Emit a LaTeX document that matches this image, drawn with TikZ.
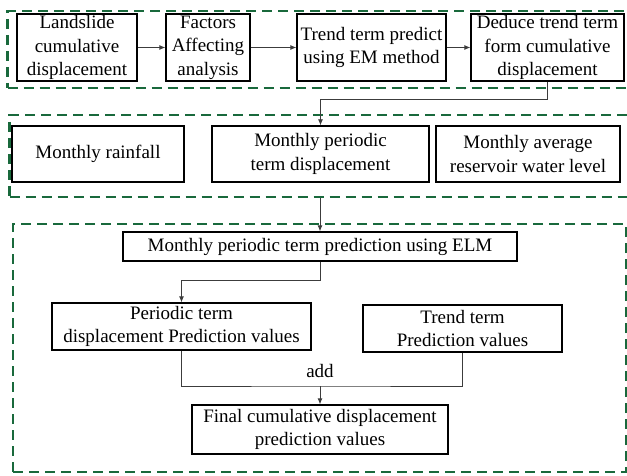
\documentclass[tikz,border=0pt]{standalone}
\usepackage{fontspec}
\setmainfont{Liberation Serif}
\usepackage{tikz}
\usetikzlibrary{arrows.meta}
\definecolor{grpgreen}{RGB}{25,105,60}
\definecolor{lngray}{RGB}{60,60,60}
\tikzset{
  blk/.style={draw=black, line width=1.3pt, align=center, inner sep=0pt, font=\fontsize{19}{23.5}\selectfont},
  grp/.style={draw=grpgreen, line width=2.2pt, dash pattern=on 10pt off 6pt, inner sep=0pt},
  ln/.style={draw=lngray, line width=0.8pt},
  arr/.style={ln, -{Latex[length=6pt,width=5pt]}}
}

\begin{document}
\begin{tikzpicture}[x=1pt,y=-1pt]
\useasboundingbox (0,0) rectangle (627,476);
\node[grp, minimum width=621.5pt, minimum height=77pt] (G1) at (318.25,49.5) {};
\node[grp, minimum width=619.5pt, minimum height=82pt] (G2) at (319.25,156) {};
\node[grp, minimum width=613pt, minimum height=248pt] (G3) at (319.5,348) {};
\node[blk, minimum width=120pt, minimum height=67pt] (N0) at (77,47.5) {Landslide\\cumulative\\displacement};
\node[blk, minimum width=84pt, minimum height=67pt] (N1) at (208,47.5) {Factors\\Affecting\\analysis};
\node[blk, minimum width=149pt, minimum height=67pt] (N2) at (371.5,47.5) {Trend term predict\\using EM method};
\node[blk, minimum width=153pt, minimum height=67pt] (N3) at (547.5,47.5) {Deduce trend term\\form cumulative\\displacement};
\node[blk, minimum width=172pt, minimum height=56pt] (N4) at (98,154) {Monthly rainfall};
\node[blk, minimum width=217pt, minimum height=56pt] (N5) at (320.5,154) {Monthly periodic\\term displacement};
\node[blk, minimum width=184pt, minimum height=56pt] (N6) at (528,154) {Monthly average\\reservoir water level};
\node[blk, minimum width=394pt, minimum height=29pt] (N7) at (320,246.5) {Monthly periodic term prediction using ELM};
\node[blk, minimum width=259pt, minimum height=47pt] (N8) at (181.5,326.5) {Periodic term\\displacement Prediction values};
\node[blk, minimum width=199pt, minimum height=47pt] (N9) at (462.5,328.5) {Trend term\\Prediction values};
\node[blk, minimum width=256pt, minimum height=49pt] (N10) at (320,429.5) {Final cumulative displacement\\prediction values};
\node[font=\fontsize{19}{23.5}\selectfont, inner sep=0pt] (A) at (320,371) {add};
\coordinate (S) at (320,386);
\draw[arr] (N0) -- (N1);
\draw[arr] (N1) -- (N2);
\draw[arr] (N2) -- (N3);
\draw[arr] (N3.south) -- ++(0,18) -| (N5.north);
\draw[arr] (G2.south -| N7.north) -- (N7.north);
\draw[arr] (N7.south) -- ++(0,19) -| (N8.north);
\draw[ln] (N8.south) |- (S) -| (N9.south);
\draw[arr] (S) -- (N10.north);
\end{tikzpicture}
\end{document}
